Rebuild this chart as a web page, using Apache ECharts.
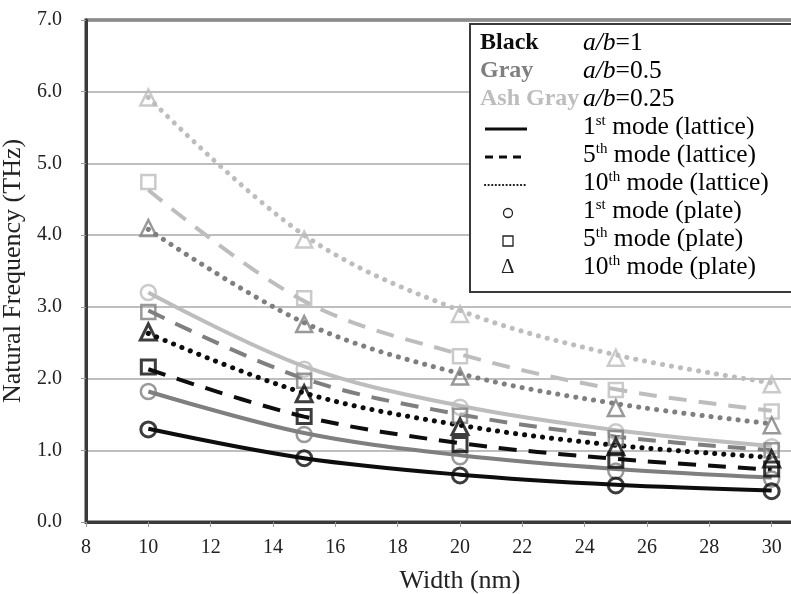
<!DOCTYPE html>
<html>
<head>
<meta charset="utf-8">
<script src="https://cdn.jsdelivr.net/npm/echarts@6/dist/echarts.min.js"></script>
<style>
  html, body { margin: 0; padding: 0; background: #fff; }
  #chart { width: 791px; height: 594px; }
</style>
</head>
<body>
<div id="chart"></div>
<script>
// Beam widths (nm)
const widths = [10, 15, 20, 25, 30];

// Lattice model: smooth curves (THz)
const lattice1_ab1   = [1.30, 0.89, 0.66, 0.52, 0.44];
const lattice5_ab1   = [2.13, 1.47, 1.10, 0.88, 0.73];
const lattice10_ab1  = [2.63, 1.80, 1.35, 1.07, 0.90];
const lattice1_ab05  = [1.82, 1.24, 0.93, 0.74, 0.62];
const lattice5_ab05  = [2.95, 2.00, 1.50, 1.19, 1.00];
const lattice10_ab05 = [4.08, 2.78, 2.07, 1.65, 1.37];
const lattice1_ab025 = [3.20, 2.17, 1.62, 1.28, 1.06];
const lattice5_ab025 = [4.63, 3.08, 2.34, 1.85, 1.55];
const lattice10_ab025 = [5.92, 4.00, 2.95, 2.33, 1.94];

// Plate model: markers (THz)
const plate1_ab1   = [1.29, 0.89, 0.65, 0.51, 0.43];
const plate5_ab1   = [2.16, 1.47, 1.08, 0.86, 0.74];
const plate10_ab1  = [2.65, 1.79, 1.33, 1.05, 0.88];
const plate1_ab05  = [1.82, 1.22, 0.91, 0.71, 0.60];
const plate5_ab05  = [2.93, 1.97, 1.48, 1.17, 1.00];
const plate10_ab05 = [4.10, 2.76, 2.03, 1.59, 1.35];
const plate1_ab025 = [3.20, 2.13, 1.60, 1.26, 1.05];
const plate5_ab025 = [4.74, 3.12, 2.31, 1.84, 1.54];
const plate10_ab025 = [5.92, 3.94, 2.90, 2.29, 1.92];

// Axis ticks
const xTicks = { min: 8, max: 32, step: 2 };
const yTicks = { min: 0, max: 7, step: 1 };

const BLACK = '#0d0d0d';
const GRAY = '#7f7f7f';
const ASH = '#bdbdbd';
const FONT = '"Liberation Serif", "DejaVu Serif", serif';

const pairs = (ys) => widths.map((x, i) => [x, ys[i]]);

function latticeSeries(name, ys, color, kind) {
  const ls = { color: color, width: 4 };
  if (kind === 'dash') { ls.type = [18, 12]; ls.width = 4; }
  if (kind === 'dot') { ls.type = [0.1, 9]; ls.cap = 'round'; ls.width = 5; }
  return {
    name: name, type: 'line', smooth: 0.35, showSymbol: false, symbol: 'none',
    data: pairs(ys), lineStyle: ls, z: 2, silent: true
  };
}

function plateSeries(name, ys, color, shape) {
  const sizes = { circle: 15, rect: 14, triangle: 16 };
  return {
    name: name, type: 'scatter', symbol: shape, symbolSize: sizes[shape],
    data: pairs(ys), z: 3, silent: true,
    itemStyle: { color: 'rgba(255,255,255,0)', borderColor: color, borderWidth: color === BLACK ? 3 : 2.5 }
  };
}

const series = [
  latticeSeries('1st lattice a/b=0.25', lattice1_ab025, ASH, 'solid'),
  latticeSeries('5th lattice a/b=0.25', lattice5_ab025, ASH, 'dash'),
  latticeSeries('10th lattice a/b=0.25', lattice10_ab025, ASH, 'dot'),
  latticeSeries('1st lattice a/b=0.5', lattice1_ab05, GRAY, 'solid'),
  latticeSeries('5th lattice a/b=0.5', lattice5_ab05, GRAY, 'dash'),
  latticeSeries('10th lattice a/b=0.5', lattice10_ab05, GRAY, 'dot'),
  latticeSeries('1st lattice a/b=1', lattice1_ab1, BLACK, 'solid'),
  latticeSeries('5th lattice a/b=1', lattice5_ab1, BLACK, 'dash'),
  latticeSeries('10th lattice a/b=1', lattice10_ab1, BLACK, 'dot'),
  plateSeries('1st plate a/b=0.25', plate1_ab025, ASH, 'circle'),
  plateSeries('5th plate a/b=0.25', plate5_ab025, ASH, 'rect'),
  plateSeries('10th plate a/b=0.25', plate10_ab025, ASH, 'triangle'),
  plateSeries('1st plate a/b=0.5', plate1_ab05, GRAY, 'circle'),
  plateSeries('5th plate a/b=0.5', plate5_ab05, GRAY, 'rect'),
  plateSeries('10th plate a/b=0.5', plate10_ab05, GRAY, 'triangle'),
  plateSeries('1st plate a/b=1', plate1_ab1, BLACK, 'circle'),
  plateSeries('5th plate a/b=1', plate5_ab1, BLACK, 'rect'),
  plateSeries('10th plate a/b=1', plate10_ab1, BLACK, 'triangle')
];

// Key box: colour names, line styles and marker shapes
const LX = 470, LY = 24;
const col1 = 480, col2 = 583, rowH = 28, row0 = 45;
const rowY = (i) => row0 + i * rowH;
const rich = {
  n: { fontFamily: FONT, fontSize: 25.5, color: '#111' },
  i: { fontFamily: FONT, fontSize: 25.5, color: '#111', fontStyle: 'italic' },
  s: { fontFamily: FONT, fontSize: 15, color: '#111', padding: [0, 0, 12, 0] }
};
function keyText(y, str) {
  return { type: 'text', left: col2, top: y - 15, z: 101,
    style: { text: str, rich: rich, verticalAlign: 'top' } };
}
function colourName(y, str, color) {
  return { type: 'text', left: col1, top: y - 14, z: 101,
    style: { text: str, fontFamily: FONT, fontSize: 24, fontWeight: 'bold', fill: color } };
}
function sampleLine(y, dash, width) {
  return { type: 'line', z: 101, shape: { x1: 485, y1: y, x2: 527, y2: y },
    style: { stroke: BLACK, lineWidth: width, lineDash: dash, lineCap: dash && dash[0] < 1 ? 'round' : 'butt' } };
}

const keyGraphics = [
  { type: 'rect', z: 100, shape: { x: LX, y: LY, width: 340, height: 268 },
    style: { fill: '#fff', stroke: '#3a3a3a', lineWidth: 2 } },
  colourName(rowY(0), 'Black', BLACK),
  colourName(rowY(1), 'Gray', GRAY),
  colourName(rowY(2), 'Ash Gray', ASH),
  keyText(rowY(0), '{i|a/b}{n|=1}'),
  keyText(rowY(1), '{i|a/b}{n|=0.5}'),
  keyText(rowY(2), '{i|a/b}{n|=0.25}'),
  sampleLine(rowY(3), null, 3),
  sampleLine(rowY(4), [8, 6], 3),
  sampleLine(rowY(5), [0.1, 3.5], 2.2),
  keyText(rowY(3), '{n|1}{s|st}{n| mode (lattice)}'),
  keyText(rowY(4), '{n|5}{s|th}{n| mode (lattice)}'),
  keyText(rowY(5), '{n|10}{s|th}{n| mode (lattice)}'),
  { type: 'circle', z: 101, shape: { cx: 508, cy: rowY(6), r: 4.5 },
    style: { fill: 'none', stroke: '#222', lineWidth: 1.3 } },
  { type: 'rect', z: 101, shape: { x: 503, y: rowY(7) - 5, width: 10, height: 10 },
    style: { fill: 'none', stroke: '#222', lineWidth: 1.3 } },
  { type: 'text', z: 101, left: 501, top: rowY(8) - 12,
    style: { text: 'Δ', fontFamily: FONT, fontSize: 21, fill: '#222' } },
  keyText(rowY(6), '{n|1}{s|st}{n| mode (plate)}'),
  keyText(rowY(7), '{n|5}{s|th}{n| mode (plate)}'),
  keyText(rowY(8), '{n|10}{s|th}{n| mode (plate)}')
];

const chart = echarts.init(document.getElementById('chart'), null, { renderer: 'canvas' });
chart.setOption({
  animation: false,
  backgroundColor: '#fff',
  // plot area runs past the right edge of the canvas
  grid: { left: 86, top: 20, height: 502, width: 748, show: true, outerBoundsMode: 'none',
          containLabel: false,
          borderColor: '#3a3a3a', borderWidth: 3, backgroundColor: 'transparent' },
  xAxis: {
    type: 'value', min: xTicks.min, max: xTicks.max, interval: xTicks.step,
    name: 'Width (nm)', nameLocation: 'middle', nameGap: 46,
    nameTextStyle: { fontFamily: FONT, fontSize: 26, color: '#222' },
    axisLine: { show: true, lineStyle: { color: '#3a3a3a', width: 3 } },
    axisTick: { show: true, length: 5, lineStyle: { color: '#9a9a9a', width: 1 } },
    axisLabel: { fontFamily: FONT, fontSize: 20, color: '#222', margin: 16,
      formatter: (v) => (v > 30 ? '' : String(v)) },
    splitLine: { show: false }
  },
  yAxis: {
    type: 'value', min: yTicks.min, max: yTicks.max, interval: yTicks.step,
    name: 'Natural Frequency (THz)', nameLocation: 'middle', nameGap: 52,
    nameTextStyle: { fontFamily: FONT, fontSize: 26, color: '#222' },
    axisLine: { show: true, lineStyle: { color: '#3a3a3a', width: 3 } },
    axisTick: { show: true, length: 5, lineStyle: { color: '#9a9a9a', width: 1 } },
    axisLabel: { fontFamily: FONT, fontSize: 20, color: '#222', margin: 24,
      formatter: (v) => v.toFixed(1) },
    splitLine: { show: true, lineStyle: { color: '#a8a8a8', width: 1.5 } }
  },
  series: series,
  graphic: keyGraphics
});
</script>
</body>
</html>
